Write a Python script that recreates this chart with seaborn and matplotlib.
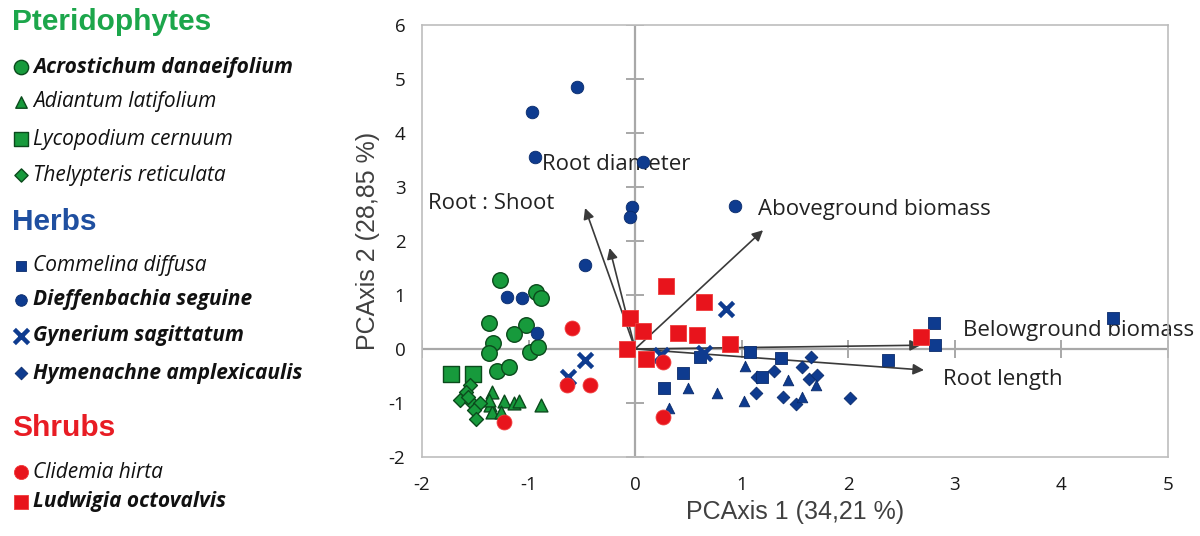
import numpy as np
import pandas as pd
import matplotlib
matplotlib.use("Agg")
import matplotlib.pyplot as plt
import seaborn as sns

# ---------------- data ----------------
acro_x = [-1.27, -0.93, -0.88, -1.37, -1.02, -1.14, -1.33, -1.37, -0.99, -0.91, -1.30, -1.18]
acro_y = [1.28, 1.06, 0.94, 0.49, 0.44, 0.28, 0.11, -0.07, -0.05, 0.03, -0.41, -0.34]
adia_x = [-1.34, -1.36, -1.23, -1.14, -1.09, -0.88, -1.34, -1.26, -1.37]
adia_y = [-0.79, -1.04, -0.97, -1.00, -0.97, -1.04, -1.17, -1.17, -0.94]
lyco_x = [-1.73, -1.52]
lyco_y = [-0.47, -0.47]
thel_x = [-1.55, -1.59, -1.64, -1.54, -1.46, -1.51, -1.49, -1.57]
thel_y = [-0.67, -0.79, -0.94, -0.98, -1.00, -1.13, -1.30, -0.89]
comm_x = [0.61, 1.08, 0.45, 0.27, 1.37, 2.37, 1.19, 2.80, 2.81, 4.48]
comm_y = [-0.14, -0.05, -0.45, -0.72, -0.17, -0.20, -0.52, 0.48, 0.07, 0.57]
dief_x = [-0.97, -0.55, -0.94, 0.07, -0.03, -0.05, 0.94, -0.47, -1.20, -1.06, -0.92]
dief_y = [4.39, 4.85, 3.56, 3.46, 2.63, 2.44, 2.65, 1.56, 0.96, 0.94, 0.30]
gyne_x = [-0.47, -0.63, 0.85, 0.65, 0.24]
gyne_y = [-0.20, -0.51, 0.74, -0.08, -0.11]
hyme_x = [1.65, 1.57, 1.30, 1.14, 1.63, 1.71, 1.13, 1.39, 1.51, 2.02]
hyme_y = [-0.14, -0.33, -0.40, -0.51, -0.56, -0.49, -0.82, -0.88, -1.02, -0.91]
herb_tri_x = [0.50, 0.77, 1.03, 1.02, 0.32, 1.43, 1.70, 1.57]
herb_tri_y = [-0.73, -0.82, -0.31, -0.97, -1.10, -0.58, -0.67, -0.88]
clid_x = [-0.59, -0.64, -0.42, -1.23, 0.26, 0.26]
clid_y = [0.39, -0.67, -0.67, -1.36, -0.24, -1.25]
ludw_x = [0.29, 0.65, -0.05, 0.07, 0.40, 0.58, 0.89, -0.08, 0.10, 2.68]
ludw_y = [1.17, 0.87, 0.57, 0.34, 0.30, 0.26, 0.09, 0.00, -0.19, 0.22]

vec_names = ["Root : Shoot", "Root diameter", "Aboveground biomass",
             "Belowground biomass", "Root length"]
vec_x = [-0.47, -0.24, 1.20, 2.68, 2.71]
vec_y = [2.61, 1.87, 2.20, 0.07, -0.39]

x_ticks = [-2, -1, 0, 1, 2, 3, 4, 5]
y_ticks = [-2, -1, 0, 1, 2, 3, 4, 5, 6]
x_label = "PCAxis 1 (34,21 %)"
y_label = "PCAxis 2 (28,85 %)"

groups = ["Pteridophytes", "Herbs", "Shrubs"]
group_species = {
    "Pteridophytes": ["Acrostichum danaeifolium", "Adiantum latifolium",
                      "Lycopodium cernuum", "Thelypteris reticulata"],
    "Herbs": ["Commelina diffusa", "Dieffenbachia seguine",
              "Gynerium sagittatum", "Hymenachne amplexicaulis"],
    "Shrubs": ["Clidemia hirta", "Ludwigia octovalvis"],
}
bold_species = {"Acrostichum danaeifolium", "Dieffenbachia seguine",
                "Gynerium sagittatum", "Hymenachne amplexicaulis",
                "Ludwigia octovalvis"}

# ---------------- styles ----------------
GREEN, GREEN_E = "#179a3c", "#0b4a1c"
BLUE, BLUE_E = "#0e3b8f", "#0a2b6b"
RED, RED_E = "#e8141c", "#f03a3a"
group_color = {"Pteridophytes": "#1ca64b", "Herbs": "#1f4fa0", "Shrubs": "#e81c24"}

style = {
    "Acrostichum danaeifolium": dict(marker="o", color=GREEN, ec=GREEN_E, s=125, lw=1.0),
    "Adiantum latifolium": dict(marker="^", color=GREEN, ec=GREEN_E, s=85, lw=1.0),
    "Lycopodium cernuum": dict(marker="s", color=GREEN, ec=GREEN_E, s=120, lw=1.0),
    "Thelypteris reticulata": dict(marker="D", color=GREEN, ec=GREEN_E, s=50, lw=1.0),
    "Commelina diffusa": dict(marker="s", color=BLUE, ec=BLUE_E, s=64, lw=0.6),
    "Dieffenbachia seguine": dict(marker="o", color=BLUE, ec=BLUE_E, s=82, lw=0.6),
    "Gynerium sagittatum": dict(marker="x", color=BLUE, ec=BLUE, s=105, lw=3.2),
    "Hymenachne amplexicaulis": dict(marker="D", color=BLUE, ec=BLUE_E, s=42, lw=0.6),
    "herb_tri": dict(marker="^", color=BLUE, ec=BLUE_E, s=58, lw=0.6),
    "Clidemia hirta": dict(marker="o", color=RED, ec=RED_E, s=115, lw=0.6),
    "Ludwigia octovalvis": dict(marker="s", color=RED, ec=RED_E, s=125, lw=0.6),
}

data = {
    "Acrostichum danaeifolium": (acro_x, acro_y),
    "Adiantum latifolium": (adia_x, adia_y),
    "Lycopodium cernuum": (lyco_x, lyco_y),
    "Thelypteris reticulata": (thel_x, thel_y),
    "Hymenachne amplexicaulis": (hyme_x, hyme_y),
    "herb_tri": (herb_tri_x, herb_tri_y),
    "Commelina diffusa": (comm_x, comm_y),
    "Dieffenbachia seguine": (dief_x, dief_y),
    "Gynerium sagittatum": (gyne_x, gyne_y),
    "Ludwigia octovalvis": (ludw_x, ludw_y),
    "Clidemia hirta": (clid_x, clid_y),
}

sns.set_theme(style="white")
plt.rcParams["font.family"] = ["Open Sans", "DejaVu Sans"]

fig = plt.figure(figsize=(12, 5.36), dpi=100)
ax = fig.add_axes([422 / 1200, 1 - 457 / 536, 746 / 1200, 432 / 536])

AXC = "#a8a8a8"
ax.axhline(0, color=AXC, lw=1.6, zorder=1)
ax.axvline(0, color=AXC, lw=1.6, zorder=1)
ax.plot(np.zeros(len(y_ticks)), y_ticks, ls="none", marker="_", ms=13, mew=1.4, color=AXC, zorder=1)
ax.plot(x_ticks, np.zeros(len(x_ticks)), ls="none", marker="|", ms=13, mew=1.4, color=AXC, zorder=1)

# vectors
for n, vx, vy in zip(vec_names, vec_x, vec_y):
    ax.annotate("", xy=(vx, vy), xytext=(0, 0),
                arrowprops=dict(arrowstyle="-|>", color="#3a3a3a", lw=1.2,
                                mutation_scale=16, shrinkA=0, shrinkB=0),
                zorder=2)

# points
for sp, (xs, ys) in data.items():
    st = style[sp]
    df = pd.DataFrame({"x": xs, "y": ys})
    kw = dict(marker=st["marker"], s=st["s"], color=st["color"], linewidth=st["lw"], zorder=3)
    if st["marker"] != "x":
        kw["edgecolor"] = st["ec"]
    sns.scatterplot(data=df, x="x", y="y", ax=ax, legend=False, **kw)

# vector labels (layout positions)
label_pos = {
    "Root : Shoot": (-1.94, 2.70),
    "Root diameter": (-0.87, 3.41),
    "Aboveground biomass": (1.15, 2.59),
    "Belowground biomass": (3.08, 0.35),
    "Root length": (2.89, -0.57),
}
for n in vec_names:
    px, py = label_pos[n]
    ax.text(px, py, n, fontsize=16, color="#222222", va="center", ha="left",
            family=["Open Sans", "DejaVu Sans"], zorder=2.5)

ax.set_xlim(x_ticks[0], x_ticks[-1])
ax.set_ylim(y_ticks[0], y_ticks[-1])
ax.set_xticks(x_ticks)
ax.set_yticks(y_ticks)
ax.set_xticklabels([str(t) for t in x_ticks])
ax.set_yticklabels([str(t) for t in y_ticks])
ax.tick_params(axis="both", length=0, labelsize=13.5, colors="#1a1a1a")
ax.tick_params(axis="x", pad=14)
ax.tick_params(axis="y", pad=12)
for sp_ in ax.spines.values():
    sp_.set_color("#bdbdbd")
    sp_.set_linewidth(1.2)
ax.set_xlabel(x_label, fontsize=18, color="#404040", family=["Liberation Sans"], labelpad=4)
ax.set_ylabel(y_label, fontsize=18, color="#404040", family=["Liberation Sans"], labelpad=6)
ax.grid(False)

# ---------------- custom legend (left) ----------------
lax = fig.add_axes([0, 0, 360 / 1200, 1])
lax.set_xlim(0, 360)
lax.set_ylim(536, 0)
lax.axis("off")

header_y = {"Pteridophytes": 22, "Herbs": 222, "Shrubs": 428}
row_y = {
    "Acrostichum danaeifolium": 67, "Adiantum latifolium": 102,
    "Lycopodium cernuum": 139, "Thelypteris reticulata": 175,
    "Commelina diffusa": 266, "Dieffenbachia seguine": 300,
    "Gynerium sagittatum": 336, "Hymenachne amplexicaulis": 373,
    "Clidemia hirta": 472, "Ludwigia octovalvis": 502,
}
leg_scale = {"Acrostichum danaeifolium": 0.85, "Adiantum latifolium": 0.8,
             "Lycopodium cernuum": 0.9, "Thelypteris reticulata": 0.9,
             "Commelina diffusa": 0.8, "Dieffenbachia seguine": 0.85,
             "Gynerium sagittatum": 1.0, "Hymenachne amplexicaulis": 1.0,
             "Clidemia hirta": 0.9, "Ludwigia octovalvis": 0.85}
for g in groups:
    lax.text(12, header_y[g], g, fontsize=21.5, fontweight="bold", color=group_color[g],
             family=["Liberation Sans"], va="center", ha="left")
    for sp in group_species[g]:
        st = style[sp]
        kw = dict(marker=st["marker"], s=st["s"] * leg_scale[sp], color=st["color"],
                  linewidth=st["lw"], clip_on=False)
        if st["marker"] != "x":
            kw["edgecolor"] = st["ec"]
        lax.scatter([21], [row_y[sp]], **kw)
        lax.text(33, row_y[sp], sp, fontsize=15, style="italic",
                 fontweight="bold" if sp in bold_species else "normal",
                 color="#111111", family=["Open Sans", "DejaVu Sans"], va="center", ha="left")

fig.savefig("out.png", dpi=100)
